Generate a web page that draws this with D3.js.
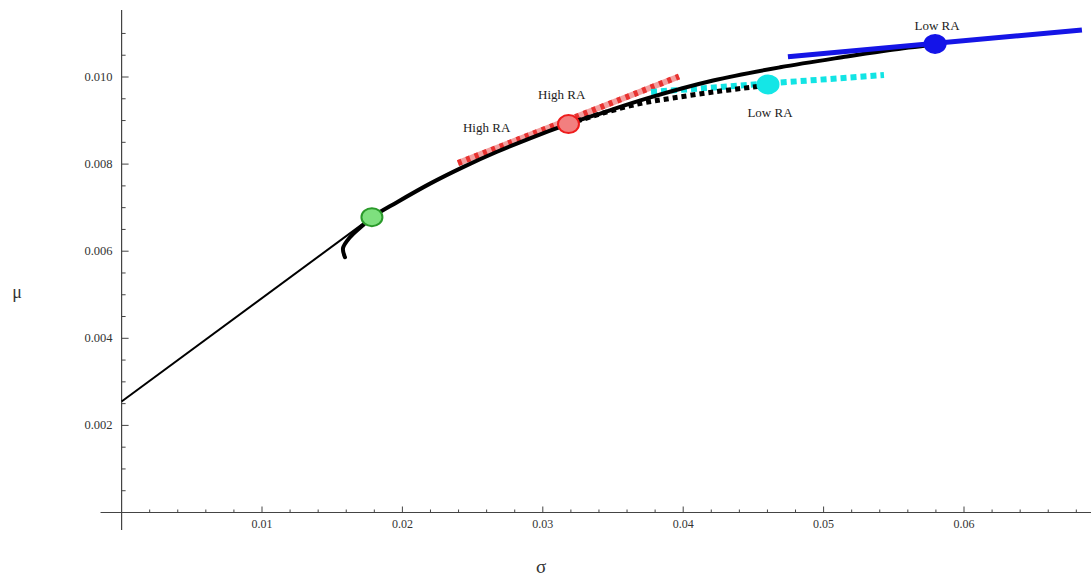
<!DOCTYPE html>
<html>
<head>
<meta charset="utf-8">
<script src="https://cdn.jsdelivr.net/npm/d3@7/dist/d3.min.js"></script>
<style>
  html, body { margin: 0; padding: 0; background: #fff; }
  svg { display: block; font-family: "Liberation Serif", "DejaVu Serif", serif; }
</style>
</head>
<body>
<svg id="chart" width="1091" height="577"></svg>
<script>
// ---- data (sigma, mu) ----
const frontier = [
  [0.01591, 0.005862], [0.01577, 0.006069], [0.01627, 0.006322], [0.01719, 0.006598],
  [0.01783, 0.006782], [0.01962, 0.007126], [0.02197, 0.007552], [0.02432, 0.007931],
  [0.02674, 0.008283], [0.02909, 0.008593], [0.03180, 0.008917], [0.03429, 0.009184],
  [0.03742, 0.009510], [0.04213, 0.009920], [0.04690, 0.010223], [0.05166, 0.010471],
  [0.05473, 0.010621], [0.05794, 0.010747]
];
const tangentLine = [[0.0, 0.00255], [0.01783, 0.006782]];
const highRALine = [[0.02396, 0.008023], [0.03970, 0.010011]];
const lowRADotted = [[0.03771, 0.009655], [0.05430, 0.010046]];
const lowRASolid = [[0.04746, 0.010467], [0.06840, 0.011080]];
const dottedFrontier = [
  [0.03180, 0.008920], [0.03429, 0.009172], [0.03692, 0.009391], [0.03927, 0.009517],
  [0.04213, 0.009655], [0.04497, 0.009770], [0.04604, 0.009816]
];
const pointNames = ["tangency", "highRA", "lowRA_dotted", "lowRA_solid"];
const pointSigma = [0.01783, 0.03183, 0.04604, 0.05794];
const pointMu = [0.006782, 0.008920, 0.009828, 0.010759];
const labelTexts = ["High RA", "High RA", "Low RA", "Low RA"];
const labelSigma = [0.02600, 0.03135, 0.04618, 0.05808];
const labelMu = [0.008851, 0.009609, 0.009195, 0.011172];
const xTicksMajor = [0.01, 0.02, 0.03, 0.04, 0.05, 0.06];
const xTickLabels = ["0.01", "0.02", "0.03", "0.04", "0.05", "0.06"];
const yTicksMajor = [0.002, 0.004, 0.006, 0.008, 0.010];
const yTickLabels = ["0.002", "0.004", "0.006", "0.008", "0.010"];

// ---- scales ----
const x = d3.scaleLinear().domain([0, 0.06]).range([121.6, 964]);
const y = d3.scaleLinear().domain([0, 0.010]).range([512.5, 77]);

const svg = d3.select("#chart");
const axisColor = "#444";

// axes lines
svg.append("line").attr("x1", x(-0.0015)).attr("x2", 1091)
  .attr("y1", y(0)).attr("y2", y(0)).attr("stroke", axisColor).attr("stroke-width", 1.2);
svg.append("line").attr("x1", x(0)).attr("x2", x(0))
  .attr("y1", y(-0.0004)).attr("y2", y(0.01154)).attr("stroke", axisColor).attr("stroke-width", 1.2);

// x ticks
const xMinor = d3.range(1, 35).map(i => i * 0.002).filter(v => Math.abs(v * 100 - Math.round(v * 100)) > 1e-6);
svg.append("g").selectAll("line").data(xMinor).join("line")
  .attr("x1", d => x(d)).attr("x2", d => x(d))
  .attr("y1", y(0)).attr("y2", y(0) - 3).attr("stroke", axisColor).attr("stroke-width", 1);
svg.append("g").selectAll("line").data(xTicksMajor).join("line")
  .attr("x1", d => x(d)).attr("x2", d => x(d))
  .attr("y1", y(0)).attr("y2", y(0) - 6).attr("stroke", axisColor).attr("stroke-width", 1);
svg.append("g").selectAll("text").data(xTicksMajor).join("text")
  .attr("x", d => x(d)).attr("y", y(0) + 15)
  .attr("text-anchor", "middle").attr("font-size", 12).attr("fill", "#333")
  .text((d, i) => xTickLabels[i]);

// y ticks
const yMinor = d3.range(1, 23).map(i => i * 0.0005).filter(v => Math.abs(v * 500 - Math.round(v * 500)) > 1e-6);
svg.append("g").selectAll("line").data(yMinor).join("line")
  .attr("x1", x(0)).attr("x2", x(0) + 4)
  .attr("y1", d => y(d)).attr("y2", d => y(d)).attr("stroke", axisColor).attr("stroke-width", 1);
svg.append("g").selectAll("line").data(yTicksMajor).join("line")
  .attr("x1", x(0)).attr("x2", x(0) + 7)
  .attr("y1", d => y(d)).attr("y2", d => y(d)).attr("stroke", axisColor).attr("stroke-width", 1);
svg.append("g").selectAll("text").data(yTicksMajor).join("text")
  .attr("x", x(0) - 9).attr("y", d => y(d) + 4)
  .attr("text-anchor", "end").attr("font-size", 12.5).attr("fill", "#333")
  .text((d, i) => yTickLabels[i]);

// axis labels
svg.append("text").attr("x", 541).attr("y", 573).attr("text-anchor", "middle")
  .attr("font-size", 19).attr("fill", "#333").text("σ");
svg.append("text").attr("x", 17).attr("y", 298).attr("text-anchor", "middle")
  .attr("font-size", 18).attr("fill", "#333").text("μ");

const line = d3.line().x(d => x(d[0])).y(d => y(d[1]));
const curve = d3.line().x(d => x(d[0])).y(d => y(d[1])).curve(d3.curveCatmullRom.alpha(0.5));

// tangent thin line
svg.append("path").attr("d", line(tangentLine)).attr("fill", "none")
  .attr("stroke", "#000").attr("stroke-width", 2);

// red dashed high RA line
svg.append("path").attr("d", line(highRALine)).attr("fill", "none")
  .attr("stroke", "#f3a0a0").attr("stroke-width", 6);
svg.append("path").attr("d", line(highRALine)).attr("fill", "none")
  .attr("stroke", "#e8312f").attr("stroke-width", 6).attr("stroke-dasharray", "4,5");

// cyan dotted line
svg.append("path").attr("d", line(lowRADotted)).attr("fill", "none")
  .attr("stroke", "#12e4e4").attr("stroke-width", 6).attr("stroke-dasharray", "6,4");

// black dotted frontier
svg.append("path").attr("d", curve(dottedFrontier)).attr("fill", "none")
  .attr("stroke", "#000").attr("stroke-width", 5).attr("stroke-dasharray", "5,4");

// main frontier
svg.append("path").attr("d", curve(frontier)).attr("fill", "none")
  .attr("stroke", "#000").attr("stroke-width", 4).attr("stroke-linecap", "round");

// blue solid line
svg.append("path").attr("d", line(lowRASolid)).attr("fill", "none")
  .attr("stroke", "#1515e6").attr("stroke-width", 5);

// points
const pointFill = ["#7ee07e", "#f27f7f", "#14e6e6", "#1414e8"];
const pointStroke = ["#2a9a2a", "#ee1c1c", "#14e6e6", "#1414e8"];
svg.append("g").selectAll("ellipse").data(pointNames).join("ellipse")
  .attr("cx", (d, i) => x(pointSigma[i])).attr("cy", (d, i) => y(pointMu[i]))
  .attr("rx", 10.5).attr("ry", 9)
  .attr("fill", (d, i) => pointFill[i]).attr("stroke", (d, i) => pointStroke[i]).attr("stroke-width", 2);

// annotations
svg.append("g").selectAll("text").data(labelTexts).join("text")
  .attr("x", (d, i) => x(labelSigma[i])).attr("y", (d, i) => y(labelMu[i]) + 4.5)
  .attr("text-anchor", "middle").attr("font-size", 13).attr("fill", "#222")
  .text(d => d);
</script>
</body>
</html>
